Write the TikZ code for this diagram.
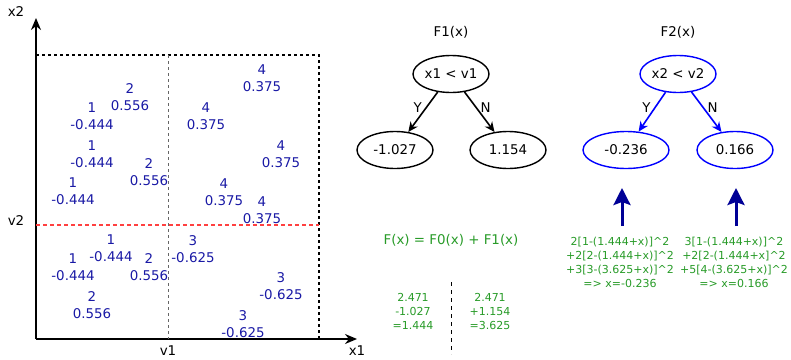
\documentclass[tikz,border=0pt]{standalone}
\usepackage{fontspec}
\setmainfont{DejaVu Sans}
\usepackage{xcolor}
\definecolor{ptblue}{RGB}{25,25,165}
\definecolor{eqgreen}{RGB}{40,155,40}
\definecolor{navyarrow}{RGB}{0,0,150}
\colorlet{splitred}{red!75}
\usepackage{tikz}
\usetikzlibrary{positioning}
\usetikzlibrary{arrows.meta}
\tikzset{
  split node/.style={ellipse,draw,line width=1.4pt,minimum width=76pt,minimum height=37pt,inner sep=0pt,font=\fontsize{13.4}{16}\selectfont},
  leaf node/.style={split node},
  pt label/.style={text=ptblue,align=center,inner sep=0pt,font=\fontsize{13.4}{17}\selectfont},
  eq text/.style={text=eqgreen,align=center,inner sep=0pt,font=\fontsize{11}{14}\selectfont},
  axis label/.style={inner sep=0pt,font=\fontsize{13.4}{16}\selectfont},
}
\usetikzlibrary{shapes}

\begin{document}
\begin{tikzpicture}[x=1pt,y=-1pt,>={Stealth[length=10pt,width=9pt]},semithick]
	\useasboundingbox (0,0) rectangle (791,359);

	% axes
	\coordinate (O) at (36,339);
	\coordinate (xend) at (357,339);
	\coordinate (yend) at (36,18);
	\draw[line width=1.6pt,-{Stealth[length=12pt,width=10pt]}] (O) -- (xend);
	\draw[line width=1.6pt,-{Stealth[length=12pt,width=10pt]}] (O) -- (yend);
	\node[axis label] (x2lab) at (16,12) {x2};
	\node[axis label] (x1lab) at (357,351) {x1};
	\node[axis label] (v1lab) at (168,351) {v1};
	\node[axis label] (v2lab) at (16,221) {v2};

	% region boundaries
	\coordinate (tl) at (36,55);
	\coordinate (tr) at (319,55);
	\coordinate (br) at (319,339);
	\draw[line width=1.3pt,dash pattern=on 3pt off 3pt] (tl) -- (tr) -- (br);
	\draw[gray!80!black,line width=0.9pt,dash pattern=on 3pt off 3pt] (168,55) -- (168,339);
	\draw[splitred,line width=1.2pt,dash pattern=on 4pt off 3pt] (36,225) -- (319,225);

	% training points: target / residual
	\foreach \x/\y/\k/\r [count=\i] in {130/89/2/0.556, 92/108/1/-0.444, 262/70/4/0.375,
	    206/108/4/0.375, 92/146/1/-0.444, 281/146/4/0.375, 149/164/2/0.556,
	    73/183/1/-0.444, 224/184/4/0.375, 262/202/4/0.375, 111/240/1/-0.444,
	    193/241/3/-0.625, 73/259/1/-0.444, 149/259/2/0.556, 281/278/3/-0.625,
	    92/297/2/0.556, 243/316/3/-0.625}
	    \node[pt label] (p\i) at (\x,\y+8.5) {\k\\\r};

	% first tree
	\node[axis label] (f1) at (451,32) {F1(x)};
	\node[split node] (r1) at (451,74) {x1 < v1};
	\node[leaf node, on grid] (l1) [below left = 76pt and 56pt of r1] {-1.027};
	\node[leaf node, on grid] (l2) [below right = 76pt and 57pt of r1] {1.154};

	\path[draw,->,line width=1.6pt]
	(r1) edge node[left,pos=.4,font=\fontsize{13.4}{16}\selectfont] {Y} (l1)
	(r1) edge node[right,pos=.4,font=\fontsize{13.4}{16}\selectfont] {N} (l2);

	% second tree
	\node[axis label] (f2) at (678,32) {F2(x)};
	\node[split node, blue] (r2) at (678,74) {\textcolor{black}{x2 < v2}};
	\node[leaf node, blue, minimum width=86pt, on grid] (l3) [below left = 76pt and 52pt of r2] {\textcolor{black}{-0.236}};
	\node[leaf node, blue, on grid] (l4) [below right = 76pt and 57pt of r2] {\textcolor{black}{0.166}};

	\path[draw,->,blue,line width=1.6pt]
	(r2) edge node[left,pos=.4,black,font=\fontsize{13.4}{16}\selectfont] {Y} (l3)
	(r2) edge node[right,pos=.4,black,font=\fontsize{13.4}{16}\selectfont] {N} (l4);

	% model update
	\node[eq text, font=\fontsize{13.4}{16}\selectfont] (fsum) at (451,240) {F(x) = F0(x) + F1(x)};
	\node[eq text] (gl) at (413,311) {2.471\\-1.027\\=1.444};
	\node[eq text] (gr) at (490,311) {2.471\\+1.154\\=3.625};
	\coordinate (dtop) at (451,282);
	\coordinate (dbot) at (451,354);
	\draw[line width=0.9pt,dash pattern=on 4pt off 4pt] (dtop) -- (dbot);

	% leaf values of the second tree
	\node[eq text] (eq1) at (620,262) {2[1-(1.444+x)]\textasciicircum2\\+2[2-(1.444+x)]\textasciicircum2\\+3[3-(3.625+x)]\textasciicircum2\\=> x=-0.236};
	\node[eq text] (eq2) at (734,262) {3[1-(1.444+x)]\textasciicircum2\\+2[2-(1.444+x]\textasciicircum2\\+5[4-(3.625+x)]\textasciicircum2\\=> x=0.166};
	\coordinate (a1) at (622,188);
	\coordinate (a2) at (736,188);
	\draw[navyarrow,line width=3pt,-{Stealth[length=17pt,width=17pt,inset=3pt]}] (a1 |- 0,226) -- (a1);
	\draw[navyarrow,line width=3pt,-{Stealth[length=17pt,width=17pt,inset=3pt]}] (a2 |- 0,226) -- (a2);
\end{tikzpicture}
\end{document}
